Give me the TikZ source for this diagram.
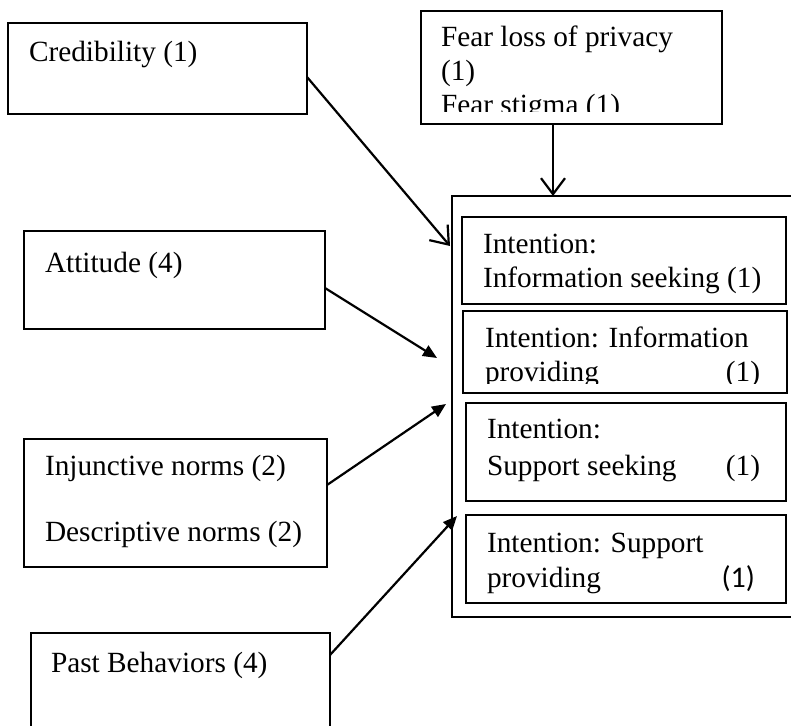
\documentclass[tikz,border=0pt]{standalone}
\usepackage{fontspec}
\setmainfont{Liberation Serif}
\newfontfamily\calibrifont{Carlito}
\usetikzlibrary{arrows.meta}
\begin{document}
\begin{tikzpicture}[x=1pt,y=-1pt,
  box/.style={draw, line width=1.7pt, inner sep=0pt, outer sep=0pt, anchor=north west},
  txt/.style={inner sep=0pt, outer sep=0pt, anchor=base west, font=\fontsize{29.3pt}{34pt}\selectfont},
  txtr/.style={txt, anchor=base east},
  openarr/.style={line width=2.2pt, -{Straight Barb[length=16pt,width=24pt,line width=2.2pt]}},
  fillarr/.style={line width=2.2pt, -{Triangle[length=14pt,width=12pt]}}]
\useasboundingbox (0,0) rectangle (791,725);

% boxes
\node[box, minimum width=299pt, minimum height=91pt] (cred) at (8,23) {};
\node[box, minimum width=301pt, minimum height=113pt] (fear) at (421,11) {};
\node[box, minimum width=348pt, minimum height=421pt] (cont) at (452,196) {};
\node[box, minimum width=324pt, minimum height=87pt] (int1) at (462,217) {};
\node[box, minimum width=324pt, minimum height=82pt] (int2) at (463,311) {};
\node[box, minimum width=320pt, minimum height=98pt] (int3) at (466,403) {};
\node[box, minimum width=320pt, minimum height=88pt] (int4) at (466,515) {};
\node[box, minimum width=301pt, minimum height=98pt] (att) at (24,231) {};
\node[box, minimum width=303pt, minimum height=128pt] (inj) at (24,439) {};
\node[box, minimum width=299pt, minimum height=120pt] (past) at (31,633) {};

% texts
\node[txt] (credT) at (29,61) {Credibility (1)};
\begin{scope}
  \clip (421,11) rectangle (722,111);
  \node[txt] (fearT1) at (441,46) {Fear loss of privacy};
  \node[txt] (fearT2) at (441,80) {(1)};
  \node[txt] (fearT3) at (441,114) {Fear stigma (1)};
\end{scope}
\node[txt] (int1T1) at (483,253) {Intention:};
\node[txt] (int1T2) at (483,287) {Information seeking (1)};
\begin{scope}
  \clip (463,311) rectangle (787,383);
  \node[txt] (int2T1) at (485,347) {Intention: Information};
  \node[txt] (int2T2) at (485,381) {providing};
  \node[txtr] (int2T3) at (760,381) {(1)};
\end{scope}
\node[txt] (int3T1) at (487,438) {Intention:};
\node[txt] (int3T2) at (487,475) {Support seeking};
\node[txtr] (int3T3) at (760,475) {(1)};
\node[txt] (int4T1) at (487,552) {Intention: Support};
\node[txt] (int4T2) at (487,587) {providing};
\node[txtr, font=\fontsize{30pt}{34pt}\calibrifont] (int4T3) at (755,587) {(1)};
\node[txt] (attT) at (45,272) {Attitude (4)};
\node[txt] (injT1) at (45,475) {Injunctive norms (2)};
\node[txt] (injT2) at (45,541) {Descriptive norms (2)};
\node[txt] (pastT) at (51,672) {Past Behaviors (4)};

% arrow tips
\coordinate (credTip) at (450,246);
\coordinate (attTip) at (437,358);
\coordinate (injTip) at (446,404);
\coordinate (pastTip) at (457,516);

% connectors
\draw[openarr] (cred.east |- 0,77) -- (credTip);
\draw[openarr] (fear.south -| 553,0) -- (cont.north -| 553,0);
\draw[fillarr] (att.east |- 0,288) -- (attTip);
\draw[fillarr] (inj.east |- 0,485) -- (injTip);
\draw[fillarr] (past.east |- 0,655) -- (pastTip);
\end{tikzpicture}
\end{document}
